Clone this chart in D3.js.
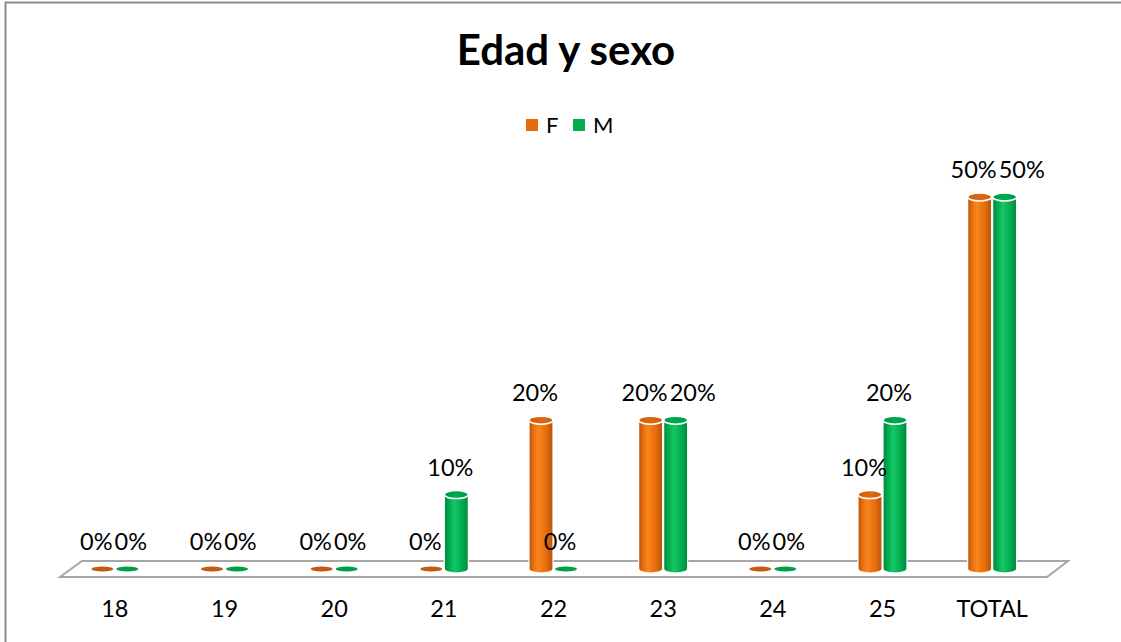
<!DOCTYPE html>
<html><head><meta charset="utf-8">
<script src="https://cdn.jsdelivr.net/npm/d3@7"></script>
<style>html,body{margin:0;padding:0;background:#fff;}svg{display:block;}</style>
</head><body>
<script>
const categories = ["18","19","20","21","22","23","24","25","TOTAL"];
const seriesNames = ["F","M"];
const valuesF = [0,0,0,0,20,20,0,10,50];
const valuesM = [0,0,0,10,0,20,0,20,50];
const valueLabelsF = ["0%","0%","0%","0%","20%","20%","0%","10%","50%"];
const valueLabelsM = ["0%","0%","0%","10%","0%","20%","0%","20%","50%"];
const title = "Edad y sexo";

const W = 1121, H = 642;
const svg = d3.select("body").append("svg").attr("width", W).attr("height", H);
const FONT = "Lato, 'Open Sans', sans-serif";

// outer frame (only top and left visible)
svg.append("path").attr("d", `M5.5,${H} L5.5,2.5 L${W},2.5`).attr("fill","none")
  .attr("stroke","#8c8c8c").attr("stroke-width",2);

const defs = svg.append("defs");
const grads = {
  F: [["0%","#b4500a"],["18%","#e56e0e"],["38%","#f8861e"],["70%","#e86f0c"],["100%","#b75309"]],
  M: [["0%","#00863a"],["22%","#00ad4f"],["42%","#16c767"],["72%","#00ad4f"],["100%","#008a3b"]]
};
const topGrads = {
  F: [["0%","#c65c0c"],["50%","#e0680f"],["100%","#c95d0b"]],
  M: [["0%","#009544"],["50%","#00a94d"],["100%","#009846"]]
};
Object.entries(grads).forEach(([k,stops])=>{
  const g = defs.append("linearGradient").attr("id","g"+k).attr("x1","0").attr("x2","1").attr("y1","0").attr("y2","0");
  stops.forEach(s=>g.append("stop").attr("offset",s[0]).attr("stop-color",s[1]));
});
Object.entries(topGrads).forEach(([k,stops])=>{
  const g = defs.append("linearGradient").attr("id","t"+k).attr("x1","0").attr("x2","1").attr("y1","0").attr("y2","0");
  stops.forEach(s=>g.append("stop").attr("offset",s[0]).attr("stop-color",s[1]));
});
const flatColor = {F:"#c55a11", M:"#00a046"};

// title
svg.append("text").attr("x",566).attr("y",65).attr("text-anchor","middle")
  .attr("font-family",FONT).attr("font-weight","bold").attr("font-size",42).attr("fill","#000").text(title);

// legend
const legendItems = [{k:"F",x:526},{k:"M",x:573}];
legendItems.forEach(it=>{
  svg.append("rect").attr("x",it.x).attr("y",119).attr("width",12).attr("height",12).attr("fill", it.k==="F"?"#e36c09":"#00b050");
  svg.append("text").attr("x",it.x+20).attr("y",133).attr("font-family",FONT).attr("font-size",22).attr("fill","#000").text(it.k);
});

// scales
const x = d3.scaleBand().domain(categories).range([60,1047]).padding(0);
const y = d3.scaleLinear().domain([0,50]).range([569,197]);
const depth = 21, floorBack = 561, floorFront = 577;

// floor
svg.append("path").attr("d",
  `M${x.range()[0]+ (depth+1)},${floorBack} L${x.range()[1]+depth},${floorBack} L${x.range()[1]},${floorFront} L${x.range()[0]},${floorFront} Z`)
  .attr("fill","#fff").attr("stroke","#a6a6a6").attr("stroke-width",2).attr("stroke-linejoin","miter");

// axis labels
const axis = d3.axisBottom(x).tickSize(0).tickPadding(0);
const ag = svg.append("g").attr("transform",`translate(0,${600})`).call(axis);
ag.select(".domain").remove();
ag.selectAll("text").attr("font-family",FONT).attr("font-size",23.5).attr("fill","#000").attr("dy","0.71em");

const barW = 24, rx = barW/2, ry = 4;
const offsets = {F:-12.5, M:12.5};

const data = [];
categories.forEach((c,i)=>{
  data.push({c, k:"F", v:valuesF[i], lab:valueLabelsF[i]});
  data.push({c, k:"M", v:valuesM[i], lab:valueLabelsM[i]});
});

const bars = svg.append("g");
data.forEach(d=>{
  const cx = x(d.c) + x.bandwidth()/2 + offsets[d.k];
  d.cx = cx;
  const yb = y(0), yt = y(d.v);
  if (d.v === 0) {
    bars.append("ellipse").attr("cx",cx).attr("cy",yb).attr("rx",rx-1).attr("ry",2.6).attr("fill",flatColor[d.k]);
    return;
  }
  const l = cx-rx, r = cx+rx;
  bars.append("path")
    .attr("d",`M${l},${yt} L${l},${yb} A${rx},${ry} 0 0 0 ${r},${yb} L${r},${yt} Z`)
    .attr("fill",`url(#g${d.k})`).attr("stroke","#fff").attr("stroke-width",1.2);
  bars.append("ellipse").attr("cx",cx).attr("cy",yt).attr("rx",rx).attr("ry",ry)
    .attr("fill",`url(#t${d.k})`).attr("stroke","#fff").attr("stroke-width",1.5);
});

// value labels
const lg = svg.append("g");
categories.forEach(c=>{
  const pair = data.filter(d=>d.c===c);
  let prev = null;
  pair.forEach(d=>{
    const ly = y(d.v)-19;
    const t = lg.append("text").attr("font-family",FONT).attr("font-size",23.5).attr("fill","#000")
      .attr("text-anchor","middle").attr("y", ly).text(d.lab);
    const w = t.node().getComputedTextLength();
    let lx = d.cx - 6;
    if (prev && Math.abs(prev.y - ly) < 20) {
      lx = Math.max(lx, prev.x + prev.w/2 + 2 + w/2);
    }
    t.attr("x", lx);
    prev = {x:lx, w, y:ly};
  });
});
</script>
</body></html>
